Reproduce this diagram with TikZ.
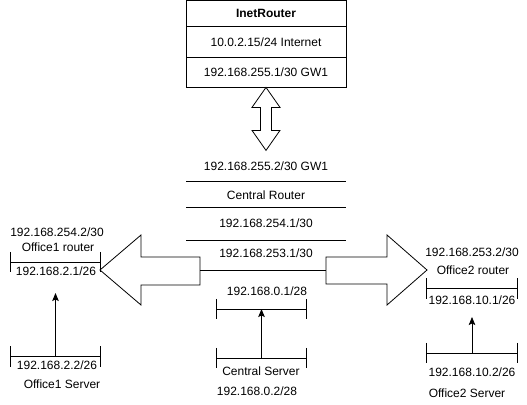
\documentclass[tikz,border=0pt]{standalone}
\usepackage{fontspec}
\setmainfont{Liberation Sans}
\usetikzlibrary{arrows.meta}
\begin{document}
\begin{tikzpicture}[x=1pt,y=-1pt, line width=0.8pt,
  every node/.style={font=\fontsize{12}{14}\selectfont, inner sep=0pt, text height=8.6pt, text depth=0pt},
  box/.style={draw, minimum width=160pt},
  iface/.style={minimum width=89.5pt, minimum height=19.5pt},
  blockarrow/.style={draw, fill=white, line join=miter},
  conn/.style={-{Stealth[length=8pt,width=6.5pt,inset=1.5pt]}},
  sep/.style={line width=0.8pt}
]
\useasboundingbox (0,0) rectangle (527,404);

% InetRouter
\node[box, minimum height=26pt] (inetT) at (266,13.5) {\textbf{InetRouter}};
\node[box, minimum height=30.5pt] (inetA) at (266,41.75) {10.0.2.15/24 Internet};
\node[box, minimum height=30pt] (inetB) at (266,72) {192.168.255.1/30 GW1};

% double block arrow
\draw[blockarrow] (inetB.south) -- ++(14,20) -- ++(-8.5,0) -- ++(0,23) -- ++(8.5,0)
  -- ++(-14,20) -- ++(-14,-20) -- ++(8.5,0) -- ++(0,-23) -- ++(-8.5,0) -- cycle;

% Central Router
\node (gw) at (266,166) {192.168.255.2/30 GW1};
\node (cr) at (266,195) {Central Router};
\node (c254) at (266,223) {192.168.254.1/30};
\node (c253) at (266,253) {192.168.253.1/30};
\coordinate (s1l) at (186,181); \coordinate (s1r) at (346,181);
\coordinate (s2l) at (186,207); \coordinate (s2r) at (346,207);
\coordinate (s3l) at (186,240); \coordinate (s3r) at (346,240);
\draw[sep] (s1l) -- (s1r);
\draw[sep] (s2l) -- (s2r);
\draw[sep] (s3l) -- (s3r);

% block arrows left/right
\coordinate (la) at (200,270);
\coordinate (ra) at (326,270);
\draw[blockarrow] (la) ++(0,-13) -- ++(-59,0) -- ++(0,-22) -- ++(-41,35) -- ++(41,35)
  -- ++(0,-20) -- ++(59,0) -- cycle;
\draw[blockarrow] (ra) ++(0,-13) -- ++(61,0) -- ++(0,-22) -- ++(40,35) -- ++(-40,35)
  -- ++(0,-21) -- ++(-61,0) -- cycle;
\draw (la) -- (ra);

% interfaces
\node[iface] (o1r) at (55.5,262) {};
\node[iface] (o1s) at (55.5,356.5) {};
\node[iface] (csr) at (261.5,309) {};
\node[iface] (css) at (261.5,358) {};
\node[iface] (o2r) at (472,288.5) {};
\node[iface] (o2s) at (472,353) {};
\foreach \n in {o1r,o1s,csr,css,o2r,o2s} {
  \draw (\n.west) -- (\n.east);
  \draw (\n.north west) -- (\n.south west);
  \draw (\n.north east) -- (\n.south east);
}

% Office1 texts
\node (t1a) at (57,232) {192.168.254.2/30};
\node (t1b) at (58,247) {Office1 router};
\node (t1c) at (56,271) {192.168.2.1/26};
\node (t1d) at (57,365) {192.168.2.2/26};
\node (t1e) at (62,384) {Office1 Server};

% Central server texts
\node (tca) at (267,291) {192.168.0.1/28};
\node (tcb) at (261,371) {Central Server};
\node (tcc) at (257,391) {192.168.0.2/28};

% Office2 texts
\node (t2a) at (472,252) {192.168.253.2/30};
\node (t2b) at (473,270) {Office2 router};
\node (t2c) at (472,300) {192.168.10.1/26};
\node (t2d) at (472,372) {192.168.10.2/26};
\node (t2e) at (467,393) {Office2 Server};

% connectors
\coordinate (o1tip) at (55.5,293);
\coordinate (o2tip) at (472,317);
\draw[conn] (o1s.center) -- (o1tip);
\draw[conn] (css.center) -- (csr.center);
\draw[conn] (o2s.center) -- (o2tip);
\end{tikzpicture}
\end{document}
